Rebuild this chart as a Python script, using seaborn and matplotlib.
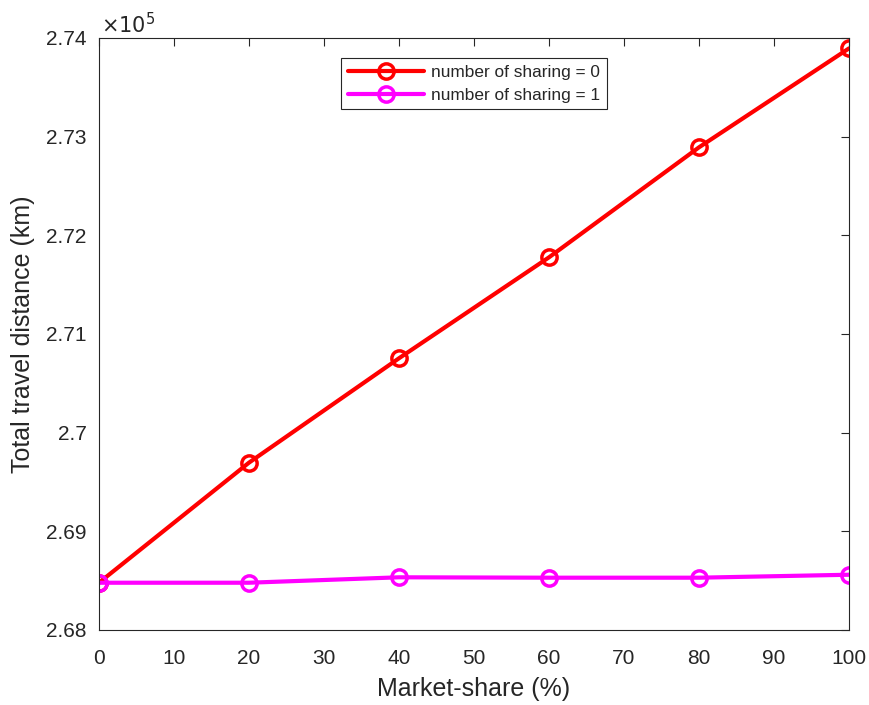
import numpy as np
import pandas as pd
import matplotlib
matplotlib.use("Agg")
import matplotlib.pyplot as plt
from matplotlib.ticker import FuncFormatter, MultipleLocator
import seaborn as sns

# values (km)
market_share = [0, 20, 40, 60, 80, 100]
sharing_0 = [268479, 269696, 270754, 271777, 272892, 273895]
sharing_1 = [268479, 268479, 268534, 268530, 268530, 268560]
series_names = ["number of sharing = 0", "number of sharing = 1"]
colors = ["#ff0000", "#ff00ff"]

df = pd.DataFrame({
    "share": market_share * 2,
    "dist": sharing_0 + sharing_1,
    "series": [series_names[0]] * 6 + [series_names[1]] * 6,
})

sns.set_theme(style="white")
plt.rcParams["font.family"] = ["Liberation Sans", "DejaVu Sans"]

fig = plt.figure(figsize=(8.69, 7.05), dpi=100)
ax = fig.add_axes([0.1139, 0.1064, 0.8631, 0.8397])

sns.lineplot(data=df, x="share", y="dist", hue="series", palette=colors,
             marker="o", markersize=11, linewidth=3, legend=False, ax=ax)
for line, c in zip(ax.lines, colors):
    line.set_markerfacecolor("none")
    line.set_markeredgecolor(c)
    line.set_markeredgewidth(2.5)

ax.set_xlim(0, 100)
ax.set_ylim(268000, 274000)
ax.xaxis.set_major_locator(MultipleLocator(10))
ax.yaxis.set_major_locator(MultipleLocator(1000))
ax.yaxis.set_major_formatter(FuncFormatter(lambda v, p: f"{v / 1e5:g}"))
ax.tick_params(direction="in", length=6, width=0.8, labelsize=15,
               top=True, right=True, colors="#262626")
ax.tick_params(axis="x", pad=14)
ax.tick_params(axis="y", pad=9)
for s in ax.spines.values():
    s.set_linewidth(0.8)
    s.set_color("#262626")

ax.set_xlabel("Market-share (%)", fontsize=18, color="#262626")
ax.set_ylabel("Total travel distance (km)", fontsize=18, color="#262626")
ax.xaxis.label.set_va("center")
ax.yaxis.label.set_va("center")
ax.xaxis.set_label_coords(0.5, -0.1)
ax.yaxis.set_label_coords(-0.101, 0.5)
ax.text(0.003, 1.002, r"$\times10^{5}$", transform=ax.transAxes, ha="left",
        va="bottom", fontsize=15, color="#262626")

leg = ax.legend(handles=ax.lines[:2], labels=series_names, loc="upper center",
                bbox_to_anchor=(0.5, 0.981), fontsize=12.4, handlelength=4.4,
                fancybox=False, framealpha=1, edgecolor="#262626",
                borderpad=0.4, labelspacing=0.45, handletextpad=0.4)
leg.get_frame().set_linewidth(0.8)

fig.savefig("out.png", dpi=100)
